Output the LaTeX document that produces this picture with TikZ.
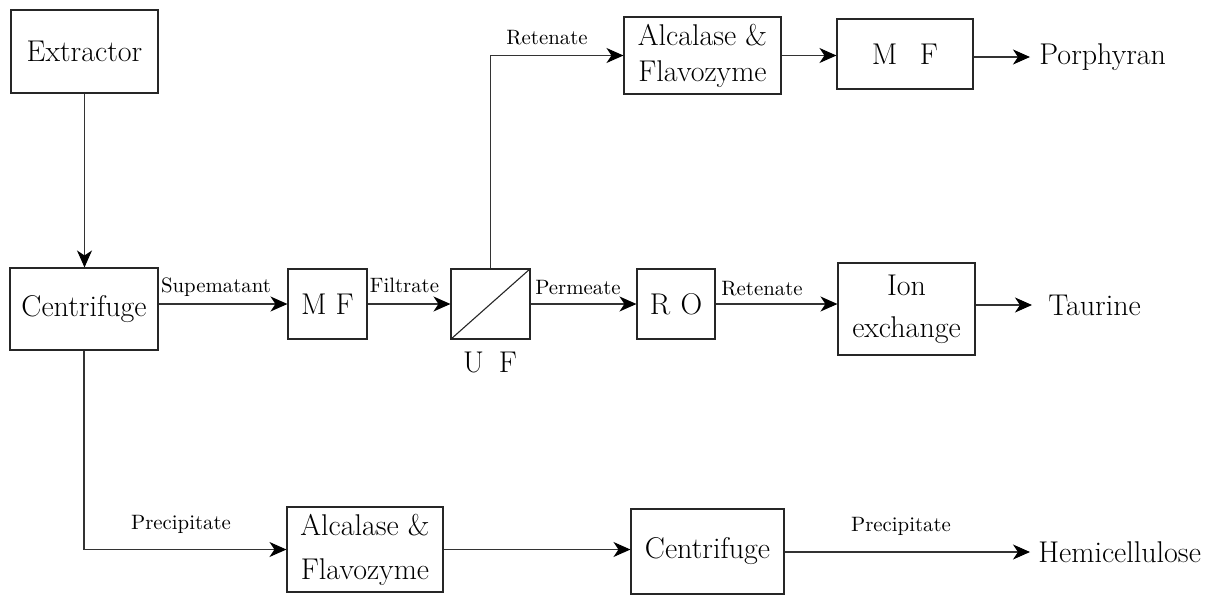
\documentclass[tikz,border=0pt]{standalone}
\usetikzlibrary{arrows.meta}
\begin{document}
\begin{tikzpicture}[x=0.5pt,y=-0.5pt,
  box/.style={draw=black!85, line width=0.55pt, inner sep=0pt, align=center,
    font=\fontsize{15}{18}\selectfont},
  big/.style={inner sep=0pt, font=\fontsize{15}{18}\selectfont},
  prod/.style={big, anchor=west},
  lbl/.style={inner sep=0pt, font=\fontsize{10.4}{12}\selectfont},
  flow/.style={draw=black!80, line width=0.55pt,
    -{Stealth[length=8.5pt,width=7.5pt,inset=2.5pt,color=black,fill=black]}},
]
\useasboundingbox (0,0) rectangle (1228,595);

% process units
\node[box, minimum width=73.5pt, minimum height=41.5pt] (extr) at (84.5,51.5) {Extractor};
\node[box, minimum width=74pt, minimum height=41pt] (cenA) at (84,309) {Centrifuge};
\node[box, minimum width=39.5pt, minimum height=35pt] (mfA) at (327.5,304) {M F};
\node[box, minimum width=39.5pt, minimum height=35pt] (uf) at (490.5,304) {};
\draw[draw=black!85, line width=0.55pt] (uf.south west) -- (uf.north east);
\node[big] (ufl) at (490,362) {U\hspace{0.5em}F};
\node[box, minimum width=39pt, minimum height=35pt] (ro) at (676,304) {R\hspace{0.35em}O};
\node[box, minimum width=68.5pt, minimum height=46pt] (ion) at (906.5,309) {Ion\\[3pt]exchange};
\node[box, minimum width=78.5pt, minimum height=38.5pt] (alcA) at (702.5,55.5) {Alcalase \&\\Flavozyme};
\node[box, minimum width=68pt, minimum height=35pt] (mfB) at (905,54) {M\hspace{0.75em}F};
\node[box, minimum width=78pt, minimum height=42.5pt] (alcB) at (365,549.5) {Alcalase \&\\[4pt]Flavozyme};
\node[box, minimum width=76.5pt, minimum height=42.5pt] (cenB) at (707.5,551.5) {Centrifuge};

% products
\node[prod] (porph) at (1039,57) {Porphyran};
\node[prod] (taur) at (1048,305) {Taurine};
\node[prod] (hemi) at (1038,552) {Hemicellulose};

% stream labels
\node[lbl] (lsup) at (216,287) {Supematant};
\node[lbl] (lfil) at (404.5,285) {Filtrate};
\node[lbl] (lper) at (578,288) {Permeate};
\node[lbl] (lret) at (762,289) {Retenate};
\node[lbl] (lretB) at (547,38) {Retenate};
\node[lbl] (lpre) at (181,524) {Precipitate};
\node[lbl] (lpreB) at (901,526) {Precipitate};

% streams
\draw[flow] (extr.south) -- (extr.south |- cenA.north);
\draw[flow] (cenA.east |- mfA.west) -- (mfA.west);
\draw[flow] (mfA) -- (uf);
\draw[flow] (uf) -- (ro);
\draw[flow] (ro.east) -- (ro.east -| ion.west);
\draw[flow, shorten >=8pt] (ion.east |- taur.west) -- (taur.west);
\draw[flow] (uf.north) |- (alcA.west);
\draw[flow] (alcA.east) -- (alcA.east -| mfB.west);
\draw[flow, shorten >=4.5pt] (mfB.east |- porph.west) -- (porph.west);
\draw[flow] (cenA.south) |- (alcB.west);
\draw[flow] (alcB.east) -- (alcB.east -| cenB.west);
\draw[flow, shorten >=4pt] (cenB.east |- hemi.west) -- (hemi.west);
\end{tikzpicture}
\end{document}
